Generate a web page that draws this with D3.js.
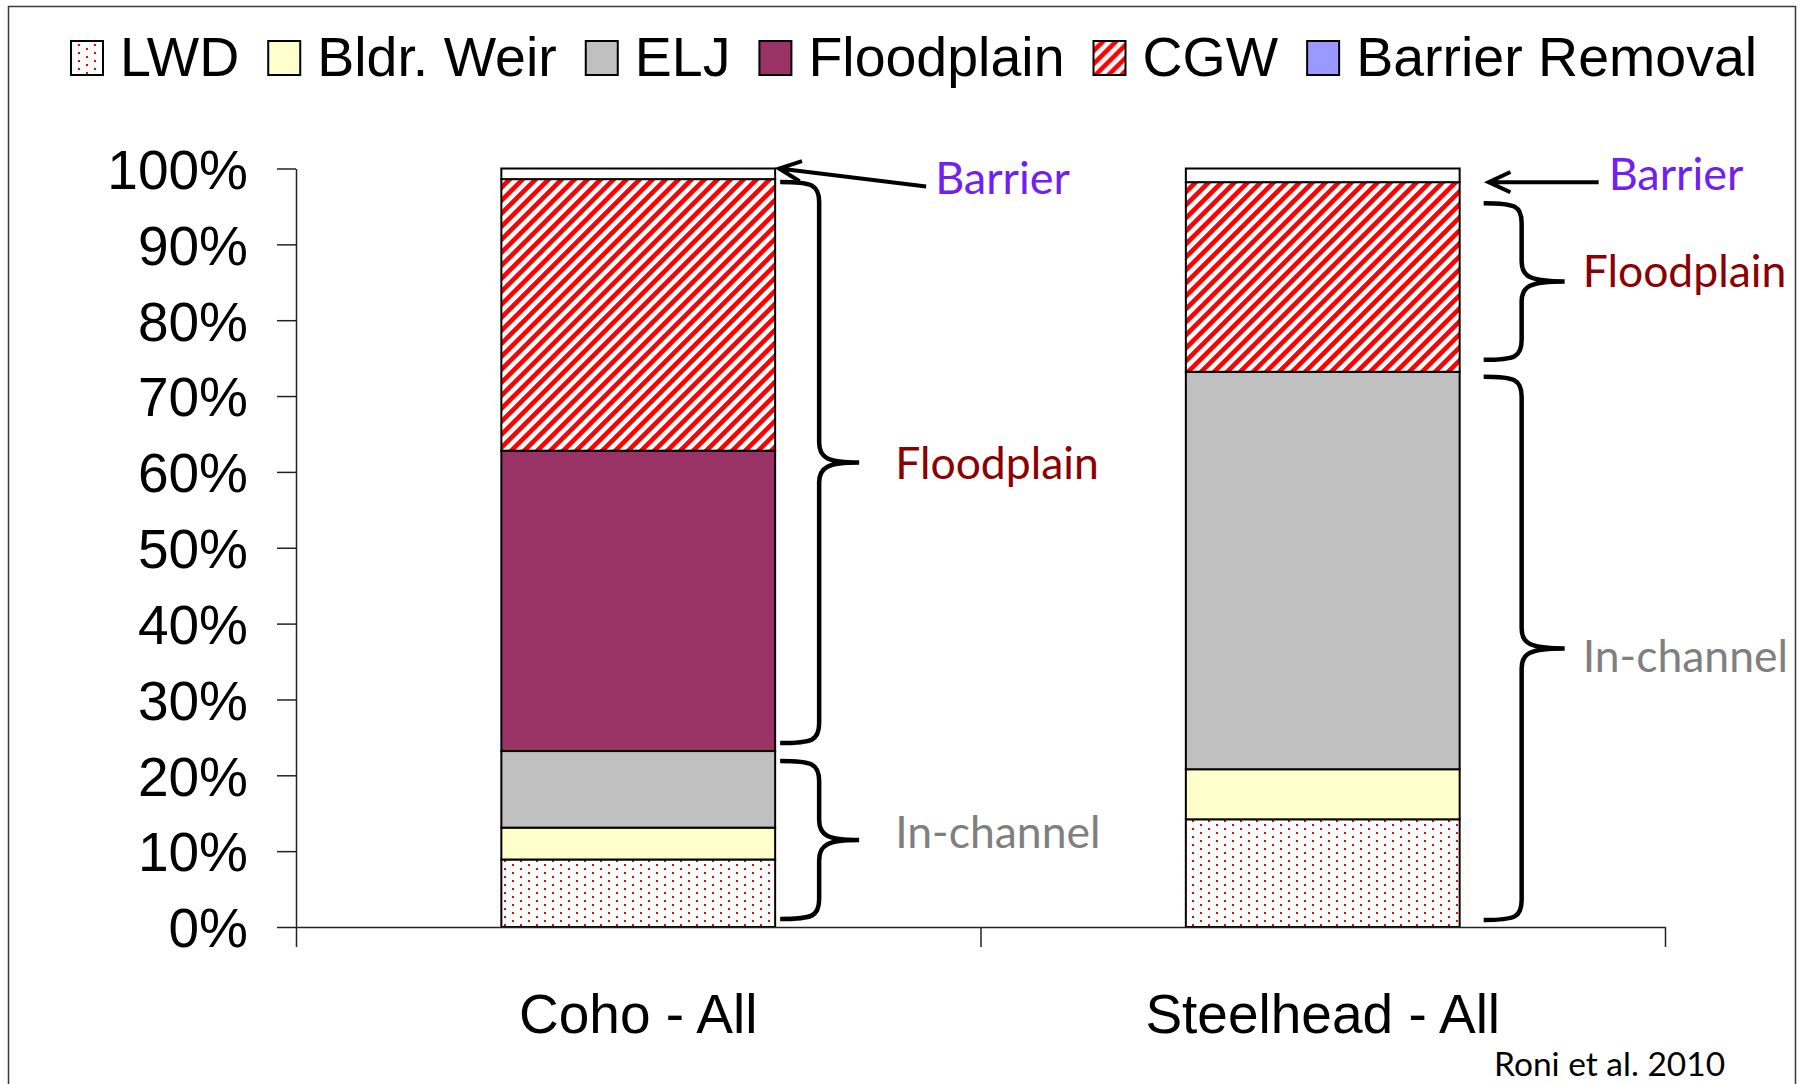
<!DOCTYPE html>
<html>
<head>
<meta charset="utf-8">
<script src="https://cdn.jsdelivr.net/npm/d3@7"></script>
<style>
  html, body { margin: 0; padding: 0; background: #fff; }
  svg { display: block; }
</style>
</head>
<body>
<svg id="chart" width="1808" height="1084"></svg>
<script>
// Share of restoration technique by species (percent of total)
const categories = ["Coho - All", "Steelhead - All"];
const seriesNames = ["LWD", "Bldr. Weir", "ELJ", "Floodplain", "CGW", "Barrier Removal"];
const lwd            = [8.9, 14.2];
const bldrWeir       = [4.2, 6.6];
const elj            = [10.1, 52.4];
const floodplain     = [39.6, 0.0];
const cgw            = [35.8, 25.0];
const barrierRemoval = [1.4, 1.8];
const yTicks = [0, 10, 20, 30, 40, 50, 60, 70, 80, 90, 100];
const groupLabels = ["In-channel", "Floodplain", "Barrier"];
const sourceNote = "Roni et al. 2010";

const valuesBySeries = {
  "LWD": lwd, "Bldr. Weir": bldrWeir, "ELJ": elj,
  "Floodplain": floodplain, "CGW": cgw, "Barrier Removal": barrierRemoval
};
const rows = categories.map((c, i) => {
  const r = { category: c };
  seriesNames.forEach(s => r[s] = valuesBySeries[s][i]);
  return r;
});

const svg = d3.select("#chart");
const defs = svg.append("defs");

// dotted fill (red points on white)
const dots = defs.append("pattern").attr("id", "dots")
  .attr("patternUnits", "userSpaceOnUse").attr("width", 16).attr("height", 8);
dots.append("rect").attr("width", 16).attr("height", 8).attr("fill", "#fff");
dots.append("rect").attr("x", 0).attr("y", 0).attr("width", 2).attr("height", 2).attr("fill", "#ff0000");
dots.append("rect").attr("x", 8).attr("y", 4).attr("width", 2).attr("height", 2).attr("fill", "#ff0000");

// wide upward diagonal stripes
const P = 13;
const stripes = defs.append("pattern").attr("id", "stripes")
  .attr("patternUnits", "userSpaceOnUse").attr("width", P).attr("height", P);
stripes.append("rect").attr("width", P).attr("height", P).attr("fill", "#fff");
stripes.append("path")
  .attr("d", `M${-P / 4},${P / 4} l${P / 2},${-P / 2} M0,${P} l${P},${-P} M${P * 0.75},${P * 1.25} l${P / 2},${-P / 2}`)
  .attr("stroke", "#ff0000").attr("stroke-width", 4.6);

const legendFill = {
  "LWD": "url(#dots)", "Bldr. Weir": "#ffffcc", "ELJ": "#c0c0c0",
  "Floodplain": "#993366", "CGW": "url(#stripes)", "Barrier Removal": "#9999ff"
};
const barFill = Object.assign({}, legendFill, { "Barrier Removal": "#ffffff" });

// outer frame
svg.append("rect").attr("x", 8.5).attr("y", 6.5).attr("width", 1787).attr("height", 1120)
  .attr("fill", "none").attr("stroke", "#3a3a3a").attr("stroke-width", 1.5);

const plot = { left: 296, right: 1665, top: 168.5, bottom: 927 };

const x = d3.scaleBand().domain(categories).range([plot.left, plot.right])
  .paddingInner(0.6).paddingOuter(0.3);
const xEdge = d3.scaleLinear().domain([0, categories.length]).range([plot.left, plot.right]);
const y = d3.scaleLinear().domain([0, 100]).range([plot.bottom, plot.top]);

const stacked = d3.stack().keys(seriesNames)(rows);

// bars
const layers = svg.append("g").selectAll("g").data(stacked).join("g")
  .attr("fill", d => barFill[d.key]);
layers.selectAll("rect").data(d => d.filter(p => p[1] - p[0] > 0)).join("rect")
  .attr("x", d => x(d.data.category))
  .attr("width", x.bandwidth())
  .attr("y", d => y(d[1]))
  .attr("height", d => y(d[0]) - y(d[1]))
  .attr("stroke", "#000").attr("stroke-width", 2);

// axes
const yAxis = svg.append("g").attr("transform", `translate(${plot.left},0)`)
  .call(d3.axisLeft(y).tickValues(yTicks).tickSize(19).tickSizeOuter(0)
    .tickPadding(29).tickFormat(d => d + "%"));
yAxis.select(".domain").attr("stroke", "#222").attr("stroke-width", 1.5);
yAxis.selectAll(".tick line").attr("stroke", "#222").attr("stroke-width", 1.5);
yAxis.selectAll(".tick text")
  .attr("font-family", "'Liberation Sans', Arial, sans-serif")
  .attr("font-size", 55).attr("fill", "#000").attr("dy", "0.36em");

const xAxis = svg.append("g").attr("transform", `translate(0,${plot.bottom})`)
  .call(d3.axisBottom(xEdge).tickValues(d3.range(categories.length + 1))
    .tickSize(20).tickSizeOuter(0).tickFormat(""));
xAxis.select(".domain").attr("stroke", "#222").attr("stroke-width", 1.5);
xAxis.selectAll(".tick line").attr("stroke", "#222").attr("stroke-width", 1.5);

svg.append("g").selectAll("text").data(categories).join("text")
  .attr("x", d => x(d) + x.bandwidth() / 2)
  .attr("y", 1033)
  .attr("text-anchor", "middle")
  .attr("font-family", "'Liberation Sans', Arial, sans-serif")
  .attr("font-size", 55).attr("fill", "#000")
  .text(d => d);

// legend
const legend = svg.append("g").attr("transform", "translate(70,0)");
let lx = 0;
seriesNames.forEach(s => {
  const g = legend.append("g").attr("transform", `translate(${lx},0)`);
  g.append("rect").attr("x", 1).attr("y", 41).attr("width", 32).attr("height", 34)
    .attr("fill", legendFill[s]).attr("stroke", "#000").attr("stroke-width", 2);
  const t = g.append("text").attr("x", 50).attr("y", 76)
    .attr("font-family", "'Liberation Sans', Arial, sans-serif")
    .attr("font-size", 55.5).attr("fill", "#000").text(s);
  lx += 50 + t.node().getComputedTextLength() + 28;
});

// group annotations
const annoFont = "Lato, 'Open Sans', sans-serif";
const labelColor = { "In-channel": "#7f7f7f", "Floodplain": "#8b0000", "Barrier": "#7020f0" };

function stackRange(ci, keys) {
  const first = stacked.find(l => l.key === keys[0])[ci];
  const last = stacked.find(l => l.key === keys[keys.length - 1])[ci];
  return [first[0], last[1]];
}

const braces = [
  { ci: 0, label: groupLabels[0], keys: ["LWD", "Bldr. Weir", "ELJ"], inset: [10, 8], dx: [5, 44, 84], tx: 120, tdy: -8 },
  { ci: 0, label: groupLabels[1], keys: ["Floodplain", "CGW"], inset: [3, 8], dx: [5, 44, 84], tx: 120, tdy: 1 },
  { ci: 1, label: groupLabels[0], keys: ["LWD", "Bldr. Weir", "ELJ"], inset: [5, 7], dx: [24, 62, 105], tx: 123, tdy: 8 },
  { ci: 1, label: groupLabels[1], keys: ["Floodplain", "CGW"], inset: [21, 12], dx: [24, 62, 105], tx: 123, tdy: -10 }
];

function bracePath(xt, xs, xp, yt, yb) {
  const ym = (yt + yb) / 2, r = 20;
  return `M${xt},${yt} C${xs - 6},${yt} ${xs},${yt + 3} ${xs},${yt + r}` +
    ` L${xs},${ym - r} C${xs},${ym - 5} ${xs + 8},${ym} ${xp},${ym}` +
    ` M${xp},${ym} C${xs + 8},${ym} ${xs},${ym + 5} ${xs},${ym + r}` +
    ` L${xs},${yb - r} C${xs},${yb - 3} ${xs - 6},${yb} ${xt},${yb}`;
}

const annos = svg.append("g");
braces.forEach(b => {
  const cat = categories[b.ci];
  const right = x(cat) + x.bandwidth();
  const [lo, hi] = stackRange(b.ci, b.keys);
  const yt = y(hi) + b.inset[0], yb = y(lo) - b.inset[1];
  annos.append("path")
    .attr("d", bracePath(right + b.dx[0], right + b.dx[1], right + b.dx[2], yt, yb))
    .attr("fill", "none").attr("stroke", "#000").attr("stroke-width", 4.5)
    .attr("stroke-linecap", "butt");
  annos.append("text")
    .attr("x", right + b.tx).attr("y", (yt + yb) / 2 + b.tdy)
    .attr("dy", "0.35em")
    .attr("font-family", annoFont).attr("font-size", 44.5)
    .attr("fill", labelColor[b.label]).text(b.label);
});

// barrier arrows
const arrows = [
  { ci: 0, tipValue: 100, tipDx: 4, tail: [147, 18], label: [156, 25] },
  { ci: 1, tipValue: 100 - barrierRemoval[1], tipDx: 29, tail: [110, 0], label: [120, 8] }
];
arrows.forEach(a => {
  const right = x(categories[a.ci]) + x.bandwidth();
  const tx = right + a.tipDx, ty = y(a.tipValue);
  const ex = tx + a.tail[0], ey = ty + a.tail[1];
  const ang = Math.atan2(ey - ty, ex - tx), len = 24, spread = 25 * Math.PI / 180;
  const b1 = [tx + len * Math.cos(ang - spread), ty + len * Math.sin(ang - spread)];
  const b2 = [tx + len * Math.cos(ang + spread), ty + len * Math.sin(ang + spread)];
  annos.append("path")
    .attr("d", `M${b1[0]},${b1[1]} L${tx},${ty} L${b2[0]},${b2[1]} M${tx},${ty} L${ex},${ey}`)
    .attr("fill", "none").attr("stroke", "#000").attr("stroke-width", 4)
    .attr("stroke-linejoin", "miter").attr("stroke-linecap", "butt");
  annos.append("text")
    .attr("x", tx + a.label[0]).attr("y", ty + a.label[1])
    .attr("font-family", annoFont).attr("font-size", 45)
    .attr("fill", labelColor["Barrier"]).text(groupLabels[2]);
});

// source note, kept just inside the lower edge
svg.append("text").attr("x", 1494).attr("y", 1076)
  .attr("font-family", annoFont).attr("font-size", 33.5).attr("fill", "#000")
  .text(sourceNote);
</script>
</body>
</html>
